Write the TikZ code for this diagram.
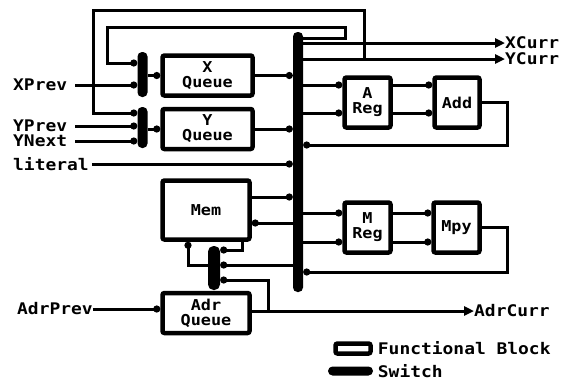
\documentclass[tikz,border=0pt]{standalone}
\usepackage{fontspec}
\setmonofont{DejaVu Sans Mono}[FakeStretch=1.12]
\usetikzlibrary{arrows.meta,positioning}
\tikzset{
  wire/.style={line width=3pt},
  feed/.style={wire,-{Circle[length=7pt]}},
  outarrow/.style={wire,-{Triangle[length=10pt,width=9pt]}},
  fblock/.style={draw,line width=4.5pt,rounded corners=2pt,fill=white,inner sep=0pt,align=center,
    font=\ttfamily\bfseries\fontsize{15}{15}\selectfont},
  switchbar/.style={fill=black,rounded corners=4.5pt,inner sep=0pt,minimum width=10pt},
  sig/.style={inner sep=0pt,font=\ttfamily\bfseries\fontsize{16}{16}\selectfont}
}
\begin{document}
\begin{tikzpicture}[x=1pt,y=-1pt]
\useasboundingbox (0,0) rectangle (564,381);
% bus and switches
\node[switchbar,minimum height=260pt] (bus) at (298,162) {};
\node[switchbar,minimum height=45pt] (xsw) at (142.5,74.5) {};
\node[switchbar,minimum height=41pt] (ysw) at (142.5,127.5) {};
\node[switchbar,minimum width=12pt,rounded corners=5.5pt,minimum height=44pt] (asw) at (214,268) {};
% functional blocks
\node[fblock,minimum width=90pt,minimum height=40pt] (xq) at (207.5,75.5) {X\\Queue};
\node[fblock,minimum width=90pt,minimum height=40pt] (yq) at (207.5,129) {Y\\Queue};
\node[fblock,minimum width=87pt,minimum height=59pt] (mem) at (206,210) {Mem};
\node[fblock,minimum width=87pt,minimum height=40pt] (aq) at (206,313) {Adr\\Queue};
\node[fblock,minimum width=46pt,minimum height=50pt] (areg) at (367.5,102.5) {A\\Reg};
\node[fblock,minimum width=45pt,minimum height=50pt] (add) at (457,102.5) {Add};
\node[fblock,minimum width=46pt,minimum height=50pt] (mreg) at (367.5,227.5) {M\\Reg};
\node[fblock,minimum width=46pt,minimum height=50pt] (mpy) at (456.5,227.5) {Mpy};
% signal names
\node[sig,anchor=west] (xprev) at (13,85) {XPrev};
\node[sig,anchor=west] (yprev) at (13,126) {YPrev};
\node[sig,anchor=west] (ynext) at (13,141) {YNext};
\node[sig,anchor=west] (literal) at (13,164) {literal};
\node[sig,anchor=west] (adrprev) at (17,309) {AdrPrev};
\node[sig,anchor=west] (xcurr) at (505,43) {XCurr};
\node[sig,anchor=west] (ycurr) at (505,59) {YCurr};
\node[sig,anchor=west] (adrcurr) at (474,311) {AdrCurr};
\coordinate (ytap) at (364,59);
\coordinate (atap) at (268,311);
% inputs
\draw[feed] ([xshift=8pt]xprev.east) -- (xsw.west |- xprev);
\draw[feed] ([xshift=8pt]yprev.east) -- (ysw.west |- yprev);
\draw[feed] ([xshift=8pt]ynext.east) -- (ysw.west |- ynext);
\draw[feed] ([xshift=3pt]literal.east) -- (bus.west |- literal);
\draw[feed] (adrprev.east) -- (aq.west |- adrprev);
% loops back to the switches
\draw[feed] (bus.east |- 0,38) -- (345,38) -- (345,27) -- (107,27) |- (xsw.west |- 0,63);
\draw[feed] (ytap) -- (364,10) -- (93,10) |- (ysw.west |- 0,113);
% queues
\draw[feed] (xsw.east |- xq.west) -- (xq.west);
\draw[feed] (ysw.east |- yq.west) -- (yq.west);
\draw[feed] (xq.east) -- (bus.west |- xq.east);
\draw[feed] (yq.east) -- (bus.west |- yq.east);
% outputs
\draw[outarrow] (bus.east |- xcurr) -- (xcurr.west);
\draw[outarrow] (bus.east |- ycurr) -- (ycurr.west);
\draw[outarrow] (aq.east |- adrcurr) -- (adrcurr.west);
% memory
\draw[feed] (mem.east |- 0,197) -- (bus.west |- 0,197);
\draw[feed] (bus.west |- 0,223) -- (mem.east |- 0,223);
\draw[feed] (mem.south -| 242,0) |- (asw.east |- 0,250);
\draw[feed] (asw.west |- 0,265) -| (mem.south -| 188,0);
\draw[feed] (bus.west |- 0,265) -- (asw.east |- 0,265);
\draw[feed] (atap) |- (asw.east |- 0,280);
% adder
\draw[feed] (bus.east |- 0,85) -- (areg.west |- 0,85);
\draw[feed] (bus.east |- 0,113) -- (areg.west |- 0,113);
\draw[feed] (areg.east |- 0,85) -- (add.west |- 0,85);
\draw[feed] (areg.east |- 0,113) -- (add.west |- 0,113);
\draw[feed] (add.east) -- (507,102.5) |- (bus.east |- 0,145);
% multiplier
\draw[feed] (bus.east |- 0,213) -- (mreg.west |- 0,213);
\draw[feed] (bus.east |- 0,242) -- (mreg.west |- 0,242);
\draw[feed] (mreg.east |- 0,213) -- (mpy.west |- 0,213);
\draw[feed] (mreg.east |- 0,242) -- (mpy.west |- 0,242);
\draw[feed] (mpy.east) -- (507,227.5) |- (bus.east |- 0,272);
% key
\node[fblock,minimum width=35pt,minimum height=10pt] (keyblock) at (353,348.5) {};
\node[switchbar,minimum width=45pt,minimum height=9pt] (keyswitch) at (350.5,371) {};
\node[sig,right=5pt of keyblock] (keyblocktext) {Functional Block};
\node[sig,anchor=west] (keyswitchtext) at (keyblocktext.west |- keyswitch) {Switch};
\end{tikzpicture}
\end{document}
